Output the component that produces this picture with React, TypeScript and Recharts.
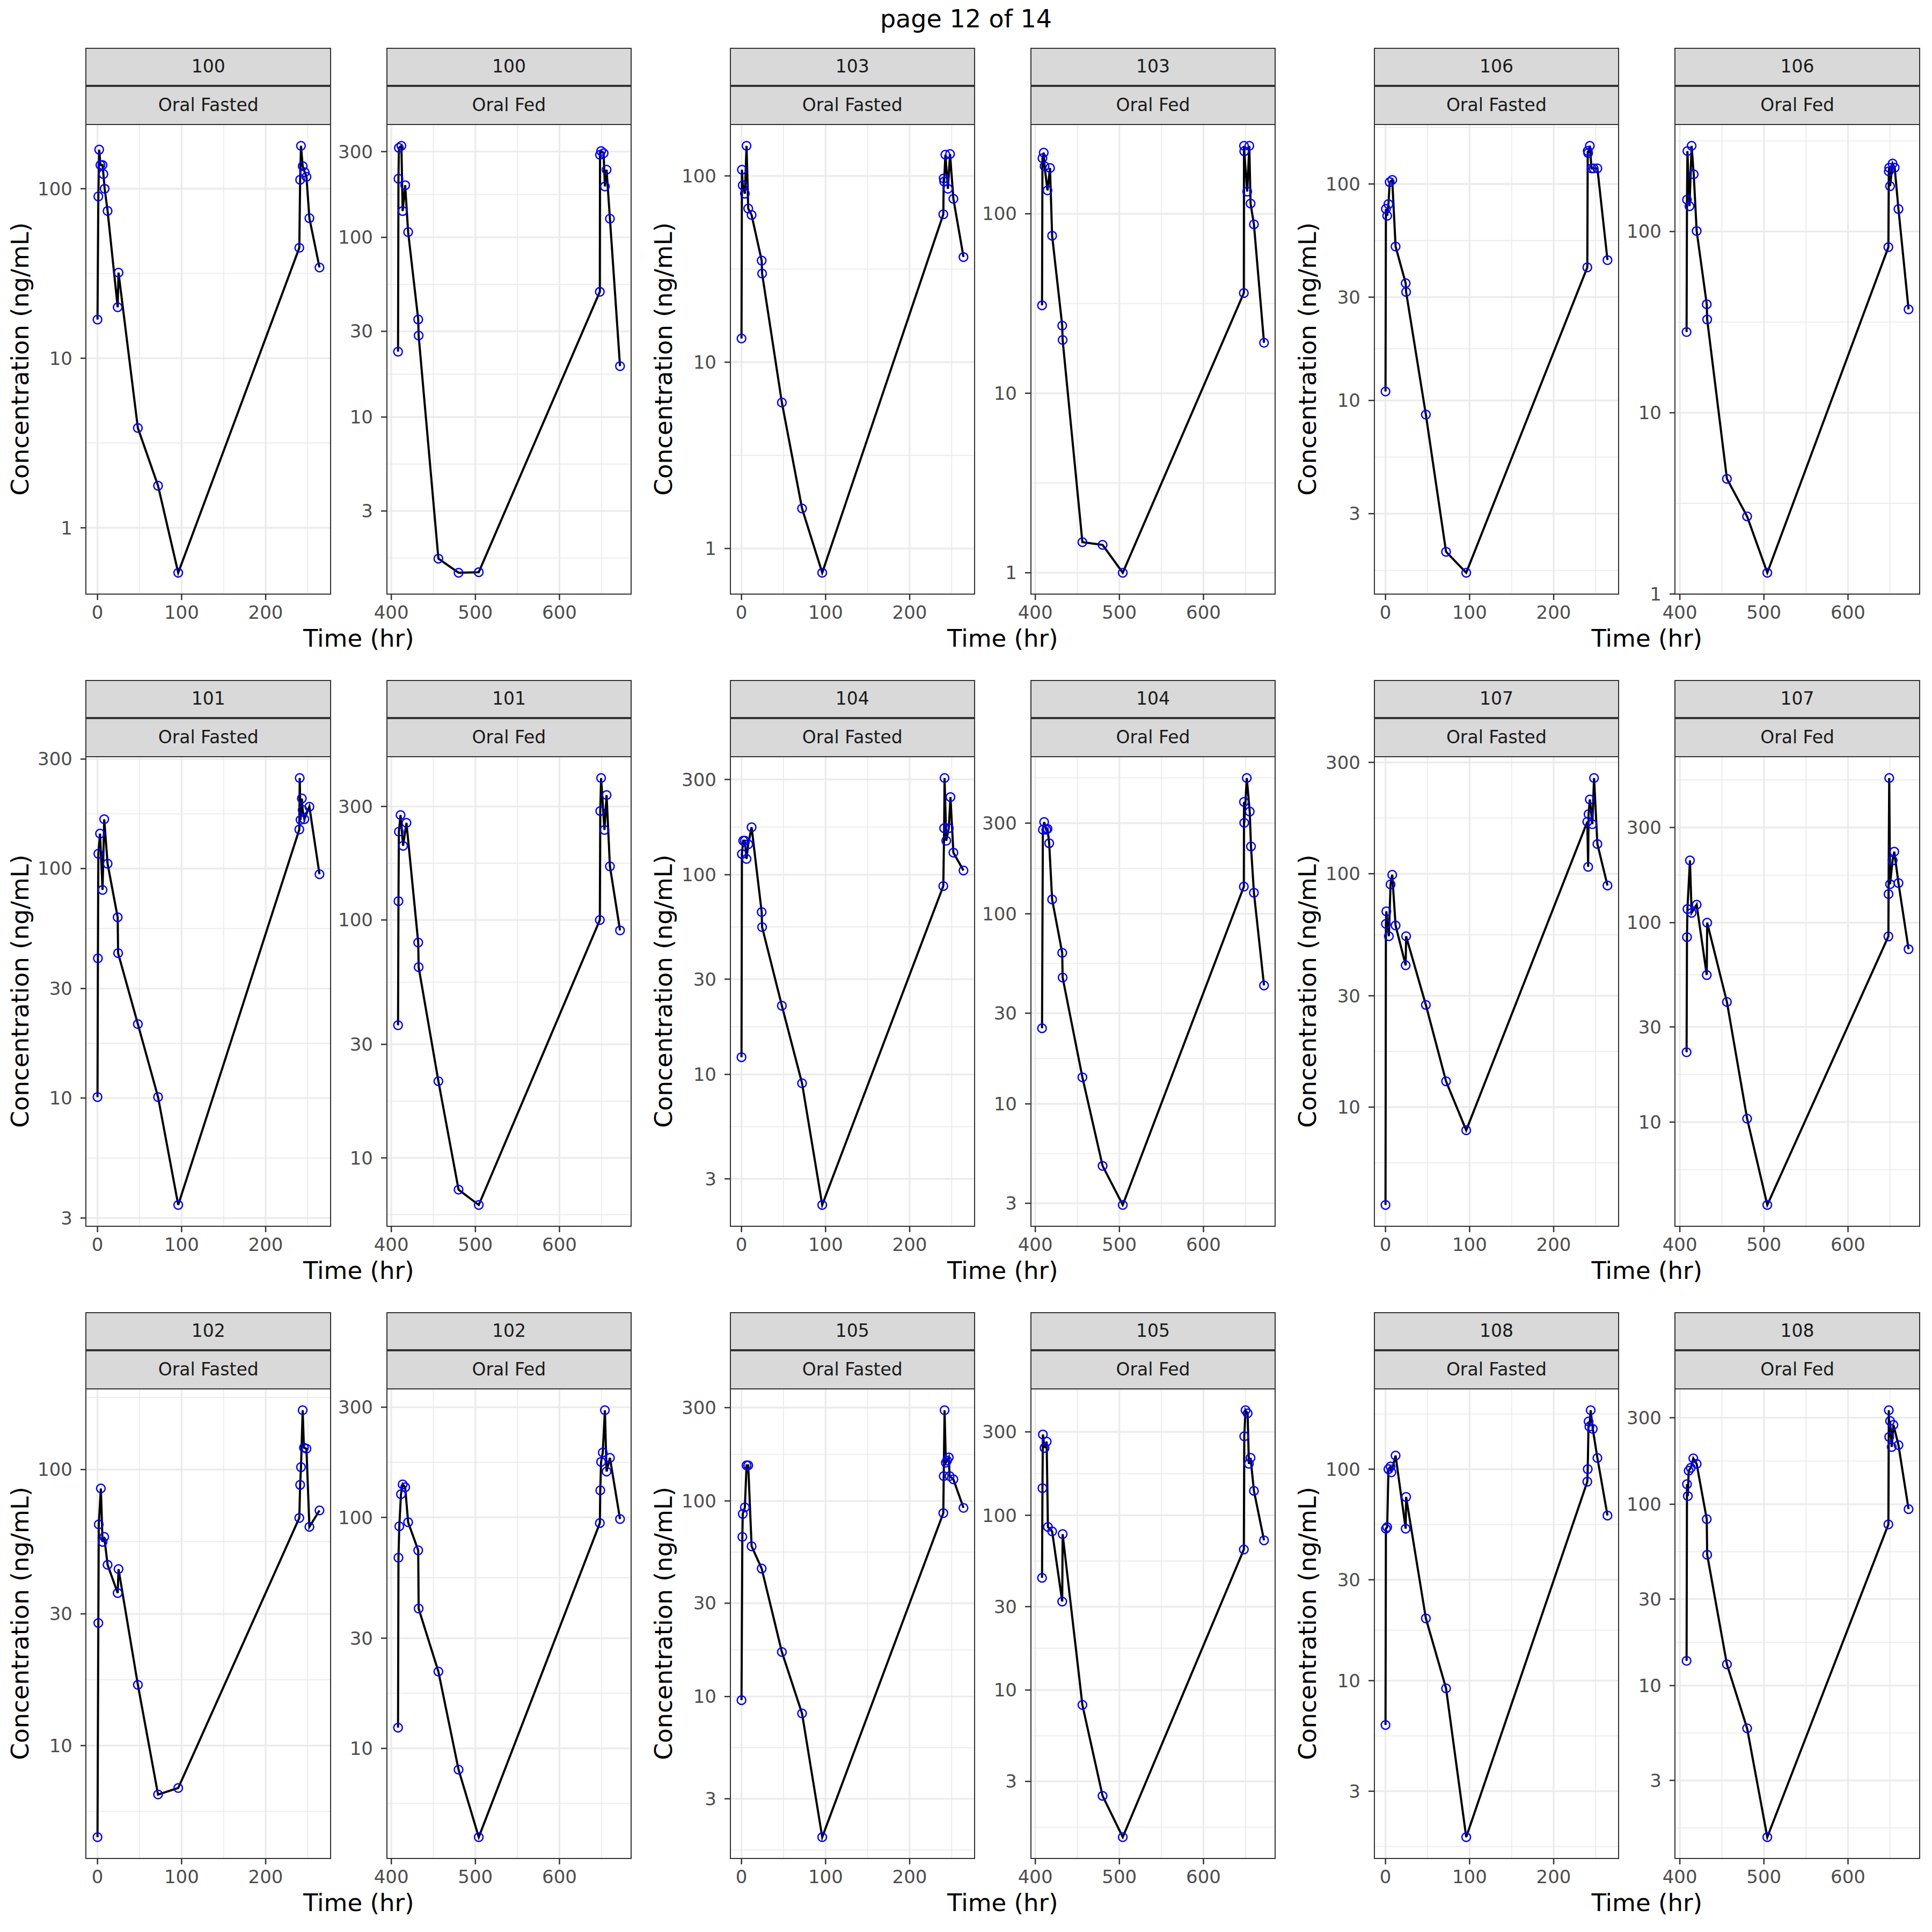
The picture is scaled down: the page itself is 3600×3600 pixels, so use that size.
import React from 'react';
import { LineChart, Line, XAxis, YAxis, CartesianGrid } from 'recharts';

type Pt = [number, number];

const PAGE_TITLE = 'page 12 of 14';
const X_TITLE = 'Time (hr)';
const Y_TITLE = 'Concentration (ng/mL)';
const ROUTES = ['Oral Fasted', 'Oral Fed'];
const SUBJECT_GRID = [
  ['100', '103', '106'],
  ['101', '104', '107'],
  ['102', '105', '108'],
];
const FASTED_TIME_TICKS = [0, 100, 200];
const FED_TIME_TICKS = [400, 500, 600];

const fasted100: Pt[] = [[0,16.9],[1,90],[2,170],[3.5,138],[6,138],[7,122],[8.5,100],[12,74],[24,20],[25,32],[48,3.88],[72,1.77],[96,0.543],[240,44.8],[241,113],[242,179],[244,136],[246.5,125],[248.5,117.5],[252,67],[264,34.3]];
const fed100: Pt[] = [[408,23.1],[408.5,212],[409,315],[412,323],[413.5,140],[416.5,195],[420,107],[432,34.9],[432.5,28.4],[456,1.63],[480,1.36],[504,1.37],[648,49.8],[648.2,288],[649.5,302],[652.5,294],[654,192],[656,238],[660,127],[672,19.2]];
const fasted103: Pt[] = [[0,13.4],[0.5,108],[1.5,89],[4,80.3],[6,145],[8,66.8],[12,61.7],[24,35.1],[24.5,29.9],[48,6.08],[72,1.64],[96,0.741],[240,62.2],[240.5,97],[241,93.3],[242.5,130],[245.5,85.3],[248,131],[252,75.3],[264,36.7]];
const fed103: Pt[] = [[408,30.9],[408.5,204],[410,219],[411,184],[414.5,135],[417.5,180],[420,75.5],[432,23.8],[432.5,19.8],[456,1.48],[480,1.43],[504,1.0],[648,36.2],[648.2,239],[648.5,223],[652,133],[654.5,239],[656,114],[660,87.3],[672,19.1]];
const fasted106: Pt[] = [[0,11],[0.5,76.7],[2,71.3],[3.5,80.7],[5,102],[8,104.4],[12,51.4],[24,34.8],[24.5,31.7],[48,8.6],[72,2.0],[96,1.6],[240,41.2],[240.5,142],[241,139],[243,150],[245,118],[247.5,118],[252,118],[264,44.5]];
const fed106: Pt[] = [[408,27.9],[408.5,150],[409,278],[411.5,138],[414,297],[416.5,207],[420,100.7],[432,39.7],[432.5,32.7],[456,4.32],[480,2.68],[504,1.31],[648,82],[648.5,215],[649,225],[650,178],[653,237],[655.5,225],[660,133],[672,37.2]];
const fasted101: Pt[] = [[0,10.1],[0.5,40.6],[1,116],[3,142],[6,80.7],[8,164],[12,105],[24,61.3],[24.5,42.8],[48,21],[72,10.1],[96,3.42],[240,148],[240.5,248],[241.5,163],[243,202],[244,180],[246,164],[252,186],[264,94.5]];
const fed101: Pt[] = [[408,36.1],[408.5,120],[409,235],[411,276],[414,205],[418,256],[432,80.4],[432.5,63.4],[456,21],[480,7.35],[504,6.34],[648,100],[648.5,287],[649.5,395],[653.5,239],[656,335],[660,168],[672,90.4]];
const fasted104: Pt[] = [[0,12.2],[0.5,127],[2,148],[4,148],[6,120],[8,142],[12,173],[24,65],[24.5,54.7],[48,22.1],[72,9.03],[96,2.22],[240,87.8],[241,171],[241.5,305],[243.5,148],[246.5,171],[248.5,245],[252,129],[264,105]];
const fed104: Pt[] = [[408,25],[409,277],[410.5,304],[413,277],[414.5,280],[416.5,235],[420,119],[432,62.3],[432.5,46.2],[456,13.8],[480,4.72],[504,2.94],[648,139],[648.2,388],[648.5,301],[651.5,518],[655,345],[656.5,226],[660,129],[672,42]];
const fasted107: Pt[] = [[0,3.81],[0.5,61],[1,69],[4,54],[6,90],[8,99],[12,60],[24,40.5],[24.5,54],[48,27.4],[72,12.9],[96,7.96],[240,167],[241,107],[241.5,180],[243,208],[246,163],[248,257],[252,134],[264,89]];
const fed107: Pt[] = [[408,22.4],[408.5,84.6],[409,117],[412,205],[414,112],[420,123],[432,54.6],[432.5,100],[456,40],[480,10.4],[504,3.84],[648,85.3],[648.2,139],[649,531],[650,156],[653,205],[655,227],[660,158],[672,73.6]];
const fasted102: Pt[] = [[0,4.66],[1,27.8],[1.5,63.3],[4,85.4],[6,54.7],[8,57],[12,45.2],[24,35.7],[25,43.6],[48,16.6],[72,6.65],[96,7.02],[240,66.8],[241,88],[242,102],[244,164],[245.5,120],[248.5,119],[252,62],[264,71.1]];
const fed102: Pt[] = [[408,12.3],[408.5,66.9],[409.5,91.5],[411.5,126],[413.5,139],[416.5,135],[420,95.3],[432,72],[432.5,40.3],[456,21.5],[480,8.09],[504,4.13],[648,94.5],[648.5,131],[649.5,174],[651.5,191],[654,291],[656,158],[660,181],[672,98.4]];
const fasted105: Pt[] = [[0,9.58],[1,65.5],[1.5,85.9],[4,92.7],[6,152],[8,152],[12,58.7],[24,45.1],[48,16.9],[72,8.19],[96,1.91],[240,86.7],[240.5,134],[241.5,291],[243,157],[244.5,161],[246.5,167],[247.5,134],[252,129],[264,92.2]];
const fed105: Pt[] = [[408,43.9],[408.5,143],[409,290],[411,243],[413.5,264],[415,85.7],[420,80.9],[432,32.1],[432.5,78],[456,8.22],[480,2.48],[504,1.44],[648,63.7],[648.5,283],[650,399],[652.5,383],[654,197],[656,213],[660,138],[672,71.9]];
const fasted108: Pt[] = [[0,6.17],[0.5,52.3],[2,53.2],[3.5,100],[6,103],[7,96.6],[12,116],[24,52.3],[24.5,73.9],[48,19.7],[72,9.2],[96,1.82],[240,87.3],[240.5,100],[241.5,168],[242.5,159],[244,190],[246.5,155],[252,113],[264,60.4]];
const fed108: Pt[] = [[408,13.7],[408.5,129],[409.5,111],[410.5,153],[413,159],[416,179],[420,167],[432,82.8],[432.5,52.7],[456,13.1],[480,5.81],[504,1.46],[648,77.4],[648.5,330],[649,235],[650,288],[652,207],[654,274],[660,212],[672,94]];

const SERIES: Record<string, [Pt[], Pt[]]> = {
  '100': [fasted100, fed100],
  '101': [fasted101, fed101],
  '102': [fasted102, fed102],
  '103': [fasted103, fed103],
  '104': [fasted104, fed104],
  '105': [fasted105, fed105],
  '106': [fasted106, fed106],
  '107': [fasted107, fed107],
  '108': [fasted108, fed108],
};

// layout (px)
const ROW_TOPS = [90, 1268, 2446];
const PANEL_LEFTS = [160.7, 720.9, 1360.8, 1921, 2560.9, 3121.6];
const PANEL_W = 455;
const STRIP1_H = 68.5;
const STRIP2_TOP = 70.5;
const STRIP2_H = 71;
const PANEL_OFF = 141.6;
const PH = 875;
const YW = 140;
const XH = 90;
const TOPPAD = 30;
const FONT = 'DejaVu Sans';

const clean = (v: number) => Number(v.toPrecision(6));

function logMajors(lo: number, hi: number): number[] {
  const a = Math.floor(Math.log10(lo));
  const b = Math.ceil(Math.log10(hi));
  const dec: number[] = [];
  for (let k = a; k <= b; k++) dec.push(clean(Math.pow(10, k)));
  const inDec = dec.filter((v) => v >= lo && v <= hi);
  if (inDec.length >= 3) return inDec;
  const all: number[] = [];
  for (let k = a; k <= b; k++) {
    all.push(clean(Math.pow(10, k)));
    all.push(clean(3 * Math.pow(10, k)));
  }
  return all.filter((v) => v >= lo && v <= hi);
}

function minorsT(maj: number[], lo: number, hi: number): number[] {
  const b = [...maj];
  if (b.length < 2) return [];
  if (b[0] > lo) b.unshift(b[0] - (b[1] - b[0]));
  const n = b.length;
  if (b[n - 1] < hi) b.push(b[n - 1] + (b[n - 1] - b[n - 2]));
  const m: number[] = [];
  for (let i = 0; i < b.length - 1; i++) m.push((b[i] + b[i + 1]) / 2);
  return m.filter((v) => v >= lo && v <= hi);
}

const tickStyle = { fontSize: 34, fill: '#4D4D4D', fontFamily: FONT };
const tickLineStyle = { stroke: '#333333', strokeWidth: 2.5 };

function Panel({ pts, timeTicks, left, top, width }: { pts: Pt[]; timeTicks: number[]; left: number; top: number; width: number }) {
  const data = pts.map(([t, v]) => ({ t, v }));
  const ts = pts.map((p) => p[0]);
  const vs = pts.map((p) => p[1]);
  const tmin = Math.min(...ts);
  const tmax = Math.max(...ts);
  const tr = tmax - tmin;
  const xDom: [number, number] = [tmin - 0.05 * tr, tmax + 0.05 * tr];
  const lmin = Math.log10(Math.min(...vs));
  const lmax = Math.log10(Math.max(...vs));
  const ld = lmax - lmin;
  const yDom: [number, number] = [Math.pow(10, lmin - 0.05 * ld), Math.pow(10, lmax + 0.05 * ld)];
  const yMaj = logMajors(yDom[0], yDom[1]);
  const yMin = minorsT(yMaj.map((v) => Math.log10(v)), Math.log10(yDom[0]), Math.log10(yDom[1])).map((v) => Math.pow(10, v));
  const xMaj = timeTicks.filter((v) => v >= xDom[0] && v <= xDom[1]);
  const xMin = minorsT(xMaj, xDom[0], xDom[1]);
  return (
    <div style={{ position: 'absolute', left: left - YW, top: top - TOPPAD }}>
      <LineChart width={YW + width} height={TOPPAD + PH + XH} data={data} margin={{ top: TOPPAD, right: 0, bottom: 0, left: 0 }}>
        <CartesianGrid stroke="#EBEBEB" strokeWidth={1.8} horizontalValues={yMin} verticalValues={xMin} syncWithTicks />
        <CartesianGrid stroke="#EBEBEB" strokeWidth={3.2} horizontalValues={yMaj} verticalValues={xMaj} syncWithTicks />
        <XAxis
          type="number"
          dataKey="t"
          domain={xDom}
          ticks={xMaj}
          allowDataOverflow
          interval={0}
          height={XH}
          axisLine={false}
          tickLine={tickLineStyle}
          tickSize={11}
          tickMargin={11}
          tick={tickStyle}
        />
        <YAxis
          type="number"
          scale="log"
          domain={yDom}
          ticks={yMaj}
          allowDataOverflow
          interval={0}
          width={YW}
          axisLine={false}
          tickLine={tickLineStyle}
          tickSize={11}
          tickMargin={15}
          tick={tickStyle}
          tickFormatter={(v: number) => String(clean(v))}
        />
        <Line
          dataKey="v"
          stroke="none"
          dot={{ r: 8, fill: 'none', stroke: '#0000FF', strokeWidth: 2.5 }}
          activeDot={false}
          isAnimationActive={false}
        />
        <Line dataKey="v" type="linear" stroke="#000000" strokeWidth={4} dot={false} activeDot={false} isAnimationActive={false} />
      </LineChart>
    </div>
  );
}

const stripStyle = (left: number, top: number, width: number, height: number): React.CSSProperties => ({
  position: 'absolute',
  left: left - 1.25,
  top,
  width: width + 2.5,
  height,
  boxSizing: 'border-box',
  border: '2.5px solid #333333',
  background: '#D9D9D9',
  color: '#1A1A1A',
  fontSize: 33,
  lineHeight: `${height - 5}px`,
  textAlign: 'center',
  whiteSpace: 'nowrap',
});

export default function App() {
  const items: React.ReactNode[] = [];
  SUBJECT_GRID.forEach((row, r) => {
    const rowTop = ROW_TOPS[r];
    const panelTop = rowTop + PANEL_OFF;
    row.forEach((subj, c) => {
      [0, 1].forEach((k) => {
        const col = 2 * c + k;
        const left = PANEL_LEFTS[col];
        const width = PANEL_W;
        items.push(
          <Panel
            key={`p-${subj}-${k}`}
            pts={SERIES[subj][k]}
            timeTicks={k === 0 ? FASTED_TIME_TICKS : FED_TIME_TICKS}
            left={left}
            top={panelTop}
            width={width}
          />
        );
        items.push(
          <div
            key={`b-${subj}-${k}`}
            style={{
              position: 'absolute',
              left: left - 1.25,
              top: panelTop - 1.25,
              width: width + 2.5,
              height: PH + 2.5,
              boxSizing: 'border-box',
              border: '2.5px solid #333333',
              pointerEvents: 'none',
            }}
          />
        );
        items.push(
          <div key={`s1-${subj}-${k}`} style={stripStyle(left, rowTop - 1, width, STRIP1_H + 2)}>
            {subj}
          </div>
        );
        items.push(
          <div key={`s2-${subj}-${k}`} style={stripStyle(left, rowTop + STRIP2_TOP - 1, width, STRIP2_H + 2)}>
            {ROUTES[k]}
          </div>
        );
      });
      // y title
      items.push(
        <div
          key={`yt-${subj}`}
          style={{
            position: 'absolute',
            left: 37.5 + 1199.5 * c - 500,
            top: panelTop + PH / 2 - 25,
            width: 1000,
            height: 50,
            lineHeight: '50px',
            fontSize: 45,
            textAlign: 'center',
            color: '#000',
            transform: 'rotate(-90deg)',
            transformOrigin: '50% 50%',
            whiteSpace: 'nowrap',
          }}
        >
          {Y_TITLE}
        </div>
      );
      // x title
      const xl = PANEL_LEFTS[2 * c];
      const xr = PANEL_LEFTS[2 * c + 1] + PANEL_W;
      items.push(
        <div
          key={`xt-${subj}`}
          style={{
            position: 'absolute',
            left: (xl + xr) / 2 - 400,
            top: panelTop + PH + 60,
            width: 800,
            height: 45,
            lineHeight: '45px',
            fontSize: 45,
            textAlign: 'center',
            color: '#000',
            whiteSpace: 'nowrap',
          }}
        >
          {X_TITLE}
        </div>
      );
    });
  });

  return (
    <div
      style={{
        position: 'absolute',
        left: 0,
        top: 0,
        width: 3600,
        height: 3600,
        background: '#FFFFFF',
        fontFamily: FONT,
        overflow: 'hidden',
      }}
    >
      <div
        style={{
          position: 'absolute',
          left: 1300,
          top: 12,
          width: 1000,
          height: 46,
          lineHeight: '46px',
          fontSize: 46,
          textAlign: 'center',
          color: '#000',
          whiteSpace: 'nowrap',
        }}
      >
        {PAGE_TITLE}
      </div>
      {items}
    </div>
  );
}
